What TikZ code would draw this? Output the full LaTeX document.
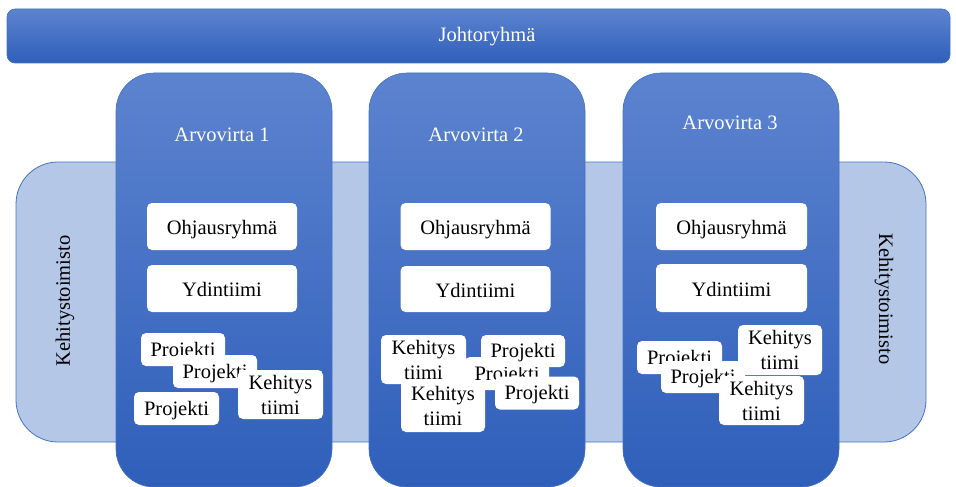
\documentclass[tikz,border=0pt]{standalone}
\usepackage{fontspec}
\setmainfont{Liberation Serif}
\definecolor{edgeblue}{RGB}{68,114,196}
\definecolor{topblue}{RGB}{92,131,207}
\definecolor{botblue}{RGB}{47,95,186}
\definecolor{paleblue}{RGB}{180,199,231}
\tikzset{
  txt/.style={font=\fontsize{20.5}{25}\selectfont},
  band/.style={rounded corners=8pt, draw=edgeblue, line width=0.6pt,
    top color=topblue, bottom color=botblue, inner sep=0pt, outer sep=0pt},
  office/.style={rounded corners=42pt, draw=edgeblue, line width=0.8pt,
    fill=paleblue, inner sep=0pt, outer sep=0pt},
  stream/.style={rounded corners=38pt, draw=edgeblue, line width=0.6pt,
    top color=topblue, bottom color=botblue, inner sep=0pt, outer sep=0pt,
    minimum width=216pt, minimum height=414pt},
  title/.style={text=white, txt, inner sep=0pt},
  side/.style={txt, text=black, inner sep=0pt},
  wbox/.style={rounded corners=5pt, fill=white, inner sep=0pt, outer sep=0pt,
    txt, text=black},
  bigbox/.style={wbox, text height=17pt, text depth=1pt,
    minimum width=150pt, minimum height=47pt},
  proj/.style={wbox, text height=15pt, text depth=2pt,
    minimum width=84pt, minimum height=33pt},
  team/.style={wbox, align=center, minimum width=85pt, minimum height=50pt},
}
\begin{document}
\begin{tikzpicture}[x=1pt, y=-1pt]
\useasboundingbox (0,0) rectangle (956,487);

% development office band behind the value streams
\node[office, minimum width=910pt, minimum height=280pt] (office) at (471,302) {};
\node[side, rotate=90] (officeL) at (65,301) {Kehitystoimisto};
\node[side, rotate=-90] (officeR) at (884,299) {Kehitystoimisto};

% management bar
\node[band, minimum width=943pt, minimum height=54pt] (mgmt) at (478.5,36) {};
\node[title] (mgmtT) at (487,37) {Johtoryhmä};

% value streams
\node[stream] (vs1) at (224,280) {};
\node[stream] (vs2) at (477,280) {};
\node[stream] (vs3) at (731,280) {};

\node[title] (t1) at (222,134.5) {Arvovirta 1};
\node[title] (t2) at (476,134.5) {Arvovirta 2};
\node[title] (t3) at (730,123) {Arvovirta 3};

% steering groups and core teams
\node[bigbox] (og1) at (222,226.5) {Ohjausryhmä};
\node[bigbox, minimum height=47pt] (yt1) at (222,288.5) {Ydintiimi};
\node[bigbox] (og2) at (475.5,226.5) {Ohjausryhmä};
\node[bigbox, minimum height=46pt] (yt2) at (475.5,289) {Ydintiimi};
\node[bigbox, minimum width=151pt] (og3) at (731.5,226.5) {Ohjausryhmä};
\node[bigbox, minimum width=151pt, minimum height=48pt] (yt3) at (731.5,288) {Ydintiimi};

% stream 1: projects and development team (later nodes lie on top)
\node[proj] (p11) at (183,349.5) {Projekti};
\node[proj] (p12) at (215,371.5) {Projekti};
\node[team, minimum height=49pt] (k11) at (280.5,394.5) {Kehitys\\tiimi};
\node[proj, minimum width=85pt] (p13) at (176.5,408.5) {Projekti};

% stream 2
\node[team, minimum height=49pt] (k21) at (423.5,359.5) {Kehitys\\tiimi};
\node[proj] (p22) at (507,373.5) {Projekti};
\node[proj, minimum height=32pt] (p21) at (523,351) {Projekti};
\node[proj] (p23) at (537,393) {Projekti};
\node[team, minimum width=84pt, minimum height=52pt] (k22) at (443,406) {Kehitys\\tiimi};

% stream 3
\node[proj, minimum width=85pt] (p31) at (679.5,357.5) {Projekti};
\node[proj, minimum height=32pt] (p32) at (703,377) {Projekti};
\node[team, minimum width=84pt] (k31) at (780,350) {Kehitys\\tiimi};
\node[team, minimum height=49pt] (k32) at (761.5,400.5) {Kehitys\\tiimi};
\end{tikzpicture}
\end{document}
